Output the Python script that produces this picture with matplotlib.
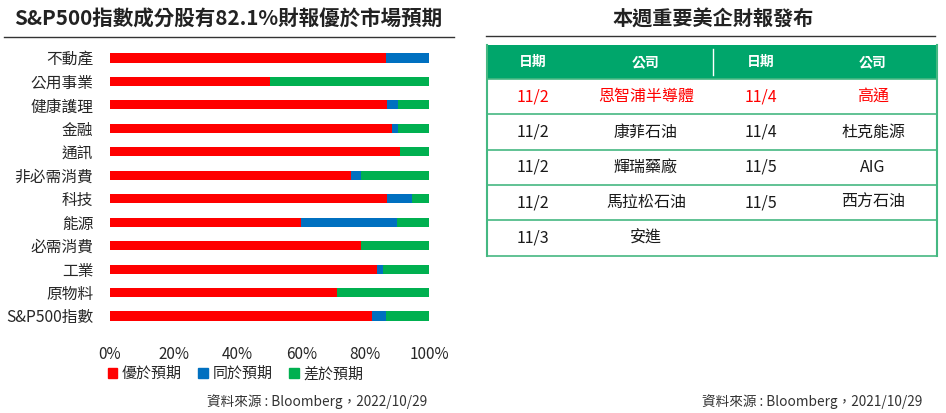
import matplotlib
matplotlib.use("Agg")
import matplotlib.pyplot as plt
from matplotlib.patches import Rectangle, Patch

plt.rcParams['font.family'] = ['Noto Sans CJK TC', 'DejaVu Sans']

# left chart data (%)
sectors = ['不動產', '公用事業', '健康護理', '金融', '通訊', '非必需消費',
           '科技', '能源', '必需消費', '工業', '原物料', 'S&P500指數']
beat = [86.6, 50.0, 86.7, 88.4, 90.9, 75.5, 86.8, 59.9, 78.7, 83.6, 71.1, 82.1]
inline = [13.4, 0.0, 3.7, 2.0, 0.0, 3.1, 7.9, 30.1, 0.0, 1.9, 0.0, 4.5]
miss = [0.0, 50.0, 9.6, 9.6, 9.1, 21.4, 5.3, 10.0, 21.3, 14.5, 28.9, 13.4]
series_names = ['優於預期', '同於預期', '差於預期']
series_colors = ['#FF0000', '#0070C0', '#00B050']
x_ticks = [0, 20, 40, 60, 80, 100]

# right table data
header = ['日期', '公司', '日期', '公司']
dates_l = ['11/2', '11/2', '11/2', '11/2', '11/3']
comp_l = ['恩智浦半導體', '康菲石油', '輝瑞藥廠', '馬拉松石油', '安進']
dates_r = ['11/4', '11/4', '11/5', '11/5', '']
comp_r = ['高通', '杜克能源', 'AIG', '西方石油', '']
highlight_row = 0

W, H = 946, 413
fig = plt.figure(figsize=(W / 100, H / 100), dpi=100)

def fx(px):
    return px / W

def fy(py):
    return 1 - py / H

text_dark = '#262626'

# ---- left: stacked bars ----
ax = fig.add_axes([fx(110), fy(327.7), fx(429) - fx(110), fy(46.3) - fy(327.7)])
ypos = list(range(len(sectors)))
left = [0] * len(sectors)
for vals, name, col in zip([beat, inline, miss], series_names, series_colors):
    ax.barh(ypos, vals, left=left, height=0.39, color=col, label=name)
    left = [a + b for a, b in zip(left, vals)]
ax.set_xlim(0, 100)
ax.set_ylim(len(sectors) - 0.5, -0.5)
ax.set_yticks(ypos)
ax.set_yticklabels(sectors, fontsize=11.3, color=text_dark, fontweight='medium')
ax.set_xticks(x_ticks)
ax.set_xticklabels([f'{t}%' for t in x_ticks], fontsize=11, color=text_dark,
                   fontweight='medium')
ax.tick_params(axis='both', length=0)
ax.tick_params(axis='x', pad=13)
ax.tick_params(axis='y', pad=12)
for s in ax.spines.values():
    s.set_visible(False)

handles = [Patch(color=c, label=n) for n, c in zip(series_names, series_colors)]
fig.legend(handles=handles, loc='center left', bbox_to_anchor=(fx(94), fy(374)),
           ncol=3, frameon=False, fontsize=10.8, handlelength=0.65, handleheight=0.65,
           handletextpad=0.3, columnspacing=1.1, labelcolor=text_dark,
           prop={'weight': 'medium', 'size': 10.8})

fig.text(fx(14), fy(19), 'S&P500指數成分股有82.1%財報優於市場預期', fontsize=14.8,
         fontweight='bold', color='#222222', va='center', ha='left')
fig.add_artist(plt.Line2D([fx(4), fx(454)], [fy(37), fy(37)], color='#333333', lw=1))
fig.text(fx(427), fy(402), '資料來源 : Bloomberg，2022/10/29', fontsize=9.8,
         color='#333333', ha='right', va='center')

# ---- right: table ----
tx = fig.add_axes([0, 0, 1, 1])
tx.set_xlim(0, W)
tx.set_ylim(H, 0)
tx.axis('off')

fig.text(fx(713), fy(19), '本週重要美企財報發布', fontsize=14.5, fontweight='bold',
         color='#222222', va='center', ha='center')
tx.plot([486, 935], [36, 36], color='#333333', lw=1)

green = '#00A66B'
line_green = '#45B882'
t_left, t_right = 487, 937
t_top, head_bot = 45, 79
row_h = 35.3
col_x = [533, 646, 761, 873]

tx.add_patch(Rectangle((t_left, t_top), t_right - t_left, head_bot - t_top,
                       facecolor=green, edgecolor='none'))
tx.plot([713, 713], [t_top + 4, head_bot - 4], color='white', lw=1)
for x, h in zip(col_x, header):
    tx.text(x, (t_top + head_bot) / 2, h, color='white', fontsize=10,
            fontweight='bold', ha='center', va='center')

n = len(dates_l)
bottom = head_bot + n * row_h
for i in range(n + 1):
    y = head_bot + i * row_h
    tx.plot([t_left, t_right], [y, y], color=line_green, lw=1.2)
tx.plot([t_left, t_left], [t_top, bottom], color=line_green, lw=1.5)
tx.plot([t_right, t_right], [t_top, bottom], color=line_green, lw=1.5)

for i in range(n):
    yc = head_bot + (i + 0.5) * row_h
    col = '#FF0000' if i == highlight_row else '#1A1A1A'
    for x, txt in zip(col_x, [dates_l[i], comp_l[i], dates_r[i], comp_r[i]]):
        tx.text(x, yc, txt, color=col, fontsize=11.5, fontweight='medium',
                ha='center', va='center')

fig.text(fx(922), fy(402), '資料來源 : Bloomberg，2021/10/29', fontsize=9.8,
         color='#333333', ha='right', va='center')

fig.savefig('out.png', dpi=100)
